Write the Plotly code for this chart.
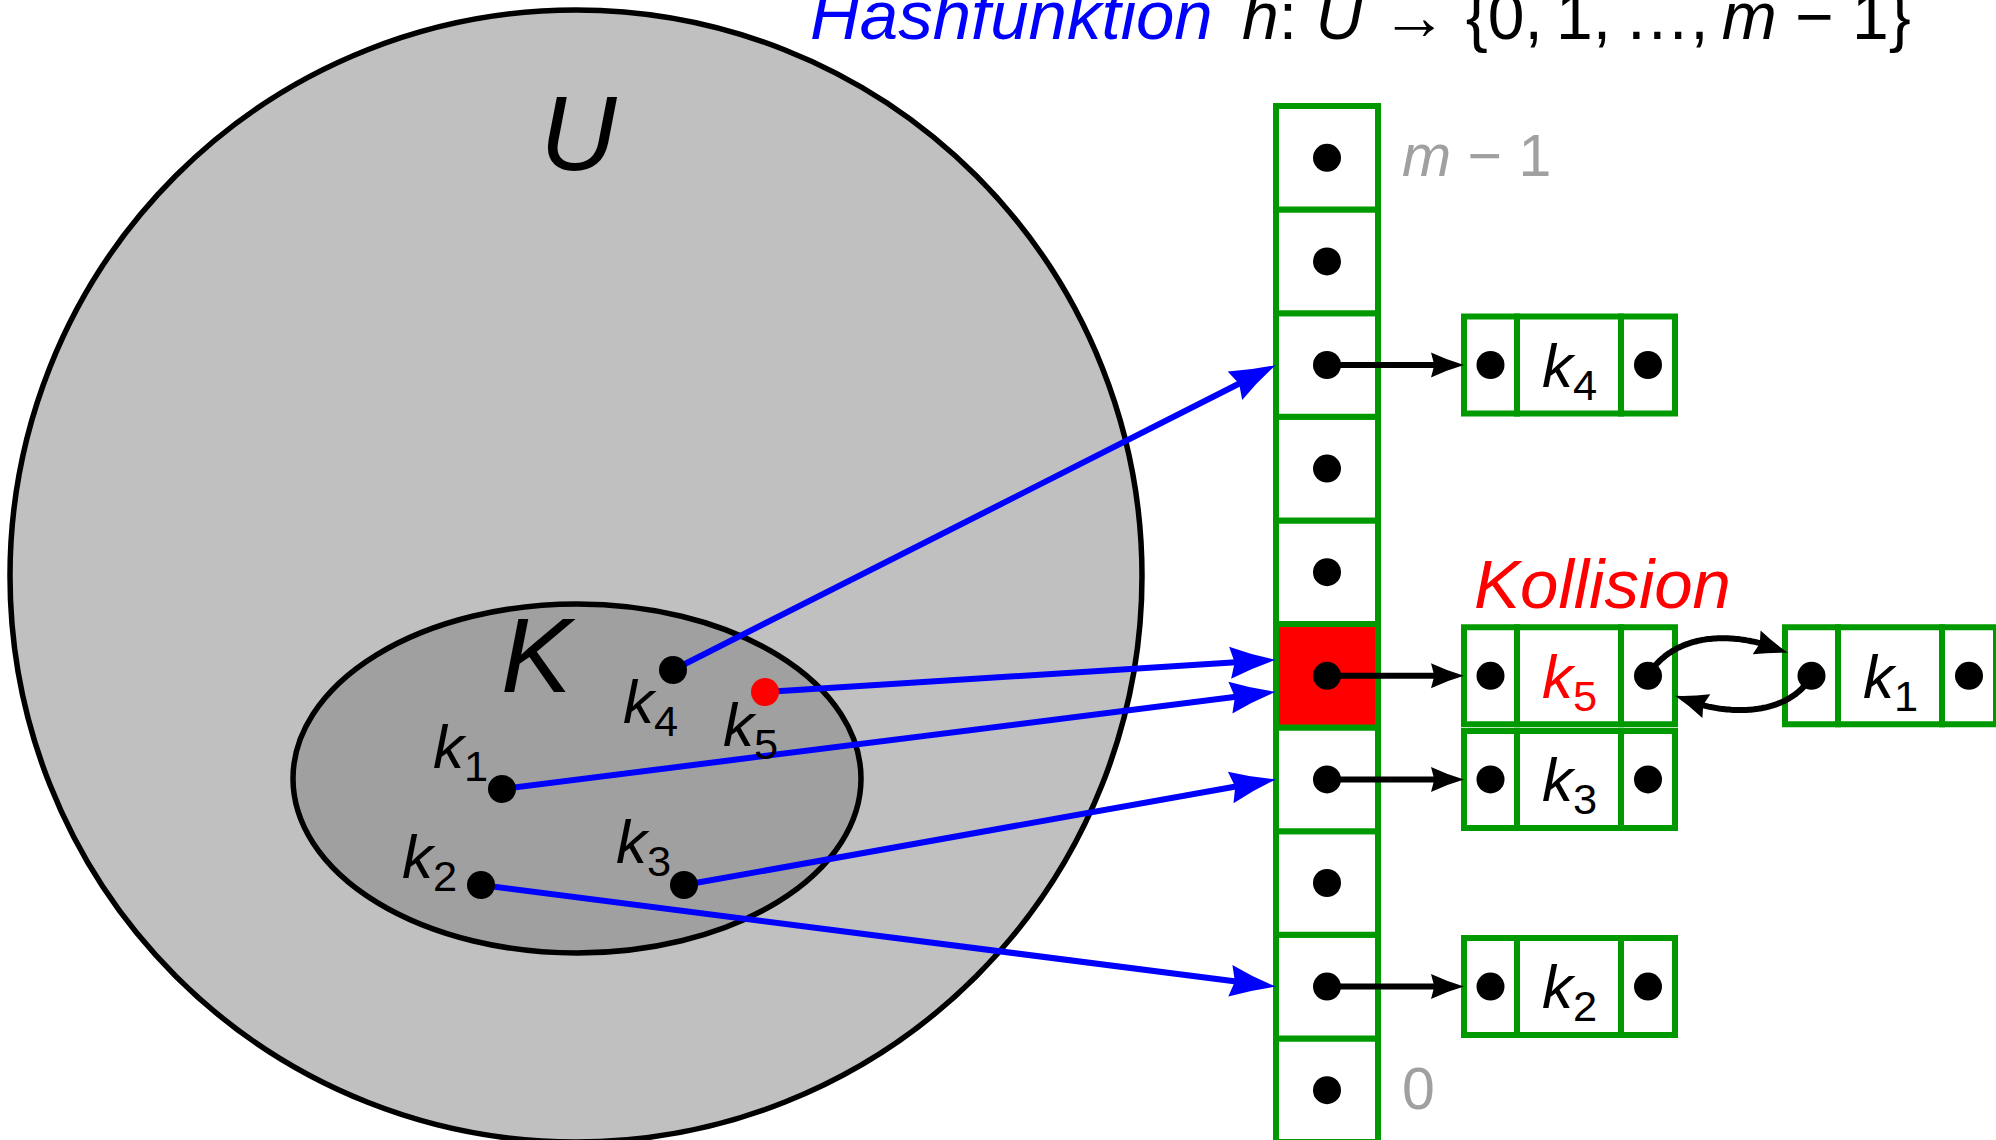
import math
import plotly.graph_objects as go

W, H = 1996, 1140

# ---------------- data ----------------
key_names = ["k1", "k2", "k3", "k4", "k5"]
key_sub = ["1", "2", "3", "4", "5"]
key_x = [502, 481, 684, 673, 765]
key_y = [789, 885, 885, 670, 692]
key_color = ["black", "black", "black", "black", "red"]
key_slot = [4, 1, 3, 7, 4]
label_dx = [-42, -52, -41, -23, -15]
label_dy = [-24, -10, -25, 50, 51]          # baseline offsets
m_slots = 10
chains = {7: [3], 4: [4, 0], 3: [2], 1: [1]}   # slot -> key indices (chain order)
collision_slot = 4
slot_labels = {9: "<i>m</i> − 1", 0: "0"}
title_left = "<i>Hashfunktion</i>"
title_right = "<i>h</i>: <i>U</i> → {0,\u20091,\u2009…,\u2009<i>m</i> − 1}"

# ---------------- geometry ----------------
FONT = "Liberation Sans"
GREEN = "#009900"
BLUE = "#0000ff"
TX0, TX1 = 1276, 1378
TCX = (TX0 + TX1) / 2
TTOP, CH = 106, 103.6
NODE_X0 = [1464, 1785]
NODE_W = [53, 104, 54]
NODE_H = 97
DOT = 28
GW = 6

shapes = []
annotations = []


def slot_cy(s):
    row = m_slots - 1 - s
    return TTOP + CH * (row + 0.5)


def text(x, baseline, html, size, color="black", xanchor="center", sub=False):
    yc = baseline - 0.347 * size + (0.118 * size if sub else 0)
    annotations.append(dict(x=x, y=yc, xref="x", yref="y", text=html, showarrow=False,
                            xanchor=xanchor, yanchor="middle",
                            font=dict(family=FONT, size=size, color=color)))


def head(tip, frm, L, w, color):
    tx, ty = tip
    dx, dy = tx - frm[0], ty - frm[1]
    n = math.hypot(dx, dy)
    ux, uy = dx / n, dy / n
    px, py = -uy, ux
    bx, by = tx - ux * L, ty - uy * L
    b1 = (bx + px * w, by + py * w)
    b2 = (bx - px * w, by - py * w)
    c1 = (tx - ux * L * 0.5 + px * w * 0.38, ty - uy * L * 0.5 + py * w * 0.38)
    c2 = (tx - ux * L * 0.5 - px * w * 0.38, ty - uy * L * 0.5 - py * w * 0.38)
    notch = (tx - ux * L * 0.9, ty - uy * L * 0.9)
    path = (f"M {tx:.1f},{ty:.1f} Q {c1[0]:.1f},{c1[1]:.1f} {b1[0]:.1f},{b1[1]:.1f} "
            f"L {notch[0]:.1f},{notch[1]:.1f} L {b2[0]:.1f},{b2[1]:.1f} "
            f"Q {c2[0]:.1f},{c2[1]:.1f} {tx:.1f},{ty:.1f} Z")
    shapes.append(dict(type="path", path=path, fillcolor=color, line=dict(width=0),
                       layer="below"))


def straight_arrow(p0, tip, color, width, L, w):
    dx, dy = tip[0] - p0[0], tip[1] - p0[1]
    n = math.hypot(dx, dy)
    ex, ey = tip[0] - dx / n * L * 0.7, tip[1] - dy / n * L * 0.7
    shapes.append(dict(type="line", x0=p0[0], y0=p0[1], x1=ex, y1=ey,
                       line=dict(color=color, width=width), layer="below"))
    head(tip, p0, L, w, color)


def curve_arrow(P, color, width, L, w):
    pts = []
    N = 80
    for i in range(N + 1):
        t = i / N
        a, b, c, d = (1 - t) ** 3, 3 * (1 - t) ** 2 * t, 3 * (1 - t) * t ** 2, t ** 3
        pts.append((a * P[0][0] + b * P[1][0] + c * P[2][0] + d * P[3][0],
                    a * P[0][1] + b * P[1][1] + c * P[2][1] + d * P[3][1]))
    tip = pts[-1]
    line_pts = [p for p in pts if math.hypot(p[0] - tip[0], p[1] - tip[1]) > L * 0.7]
    frm = [p for p in pts if math.hypot(p[0] - tip[0], p[1] - tip[1]) > L][-1]
    path = "M " + " L ".join(f"{x:.1f},{y:.1f}" for x, y in line_pts)
    shapes.append(dict(type="path", path=path, line=dict(color=color, width=width),
                       layer="below"))
    head(tip, frm, L, w, color)


# universe and key set
shapes.append(dict(type="circle", x0=10, x1=1142, y0=10, y1=1142, fillcolor="#c0c0c0",
                   line=dict(color="black", width=5.5), layer="below"))
shapes.append(dict(type="circle", x0=293, x1=861, y0=604, y1=953, fillcolor="#a0a0a0",
                   line=dict(color="black", width=5.5), layer="below"))

# table cells
for s in range(m_slots):
    cy = slot_cy(s)
    shapes.append(dict(type="rect", x0=TX0, x1=TX1, y0=cy - CH / 2, y1=cy + CH / 2,
                       fillcolor="red" if s == collision_slot else "white",
                       line=dict(color=GREEN, width=GW), layer="below"))

# chain nodes
dots_x, dots_y = [], []
for s, chain in chains.items():
    cy = slot_cy(s)
    for j, ki in enumerate(chain):
        x0 = NODE_X0[j]
        xs = [x0, x0 + NODE_W[0], x0 + NODE_W[0] + NODE_W[1], x0 + sum(NODE_W)]
        for a, b in zip(xs[:-1], xs[1:]):
            shapes.append(dict(type="rect", x0=a, x1=b, y0=cy - NODE_H / 2, y1=cy + NODE_H / 2,
                               fillcolor="white", line=dict(color=GREEN, width=GW),
                               layer="below"))
        dots_x += [(xs[0] + xs[1]) / 2, (xs[2] + xs[3]) / 2]
        dots_y += [cy, cy]
        text((xs[1] + xs[2]) / 2, cy + 19,
             f"<i>k</i><sub>{key_sub[ki]}</sub>", 62, key_color[ki], sub=True)
    # arrow from table to first node
    straight_arrow((TCX, cy), (NODE_X0[0], cy), "black", 6, 33, 12.5)
    # doubly linked arrows between nodes
    for j in range(len(chain) - 1):
        xa = NODE_X0[j]
        xb = NODE_X0[j + 1]
        rdot = xa + NODE_W[0] + NODE_W[1] + NODE_W[2] / 2
        ldot = xb + NODE_W[0] / 2
        curve_arrow([(rdot, cy), (rdot + 22, cy - 38), (rdot + 77, cy - 50), (xb + 3, cy - 23)],
                    "black", 6, 33, 12.5)
        curve_arrow([(ldot, cy), (ldot - 21, cy + 38), (ldot - 81, cy + 44),
                     (xa + sum(NODE_W), cy + 20)], "black", 6, 33, 12.5)

# blue hash arrows
for i in range(len(key_names)):
    s = key_slot[i]
    chain = chains[s]
    pos = chain.index(i)
    off = (pos - (len(chain) - 1) / 2) * 32
    tip = (TX0, slot_cy(s) + off)
    straight_arrow((key_x[i], key_y[i]), tip, BLUE, 6, 46, 16)

# table pointer dots
tdx = [TCX] * m_slots
tdy = [slot_cy(s) for s in range(m_slots)]

# labels
text(579, 170, "<i>U</i>", 106)
text(538, 692, "<i>K</i>", 106)
for i in range(len(key_names)):
    text(key_x[i] + label_dx[i], key_y[i] + label_dy[i],
         f"<i>k</i><sub>{key_sub[i]}</sub>", 62, "black", sub=True)
for s, lab in slot_labels.items():
    text(1400, slot_cy(s) + 19, lab, 59, "#a0a0a0", xanchor="left")
text(1602, 608, "<i>Kollision</i>", 69, "red")
text(808, 39, title_left, 69, BLUE, xanchor="left")
text(1240, 39, title_right, 66, "black", xanchor="left")

fig = go.Figure()
fig.add_trace(go.Scatter(x=tdx + dots_x, y=tdy + dots_y, mode="markers",
                         marker=dict(size=DOT, color="black", line=dict(width=0)),
                         hoverinfo="skip"))
fig.add_trace(go.Scatter(x=key_x, y=key_y, mode="markers",
                         marker=dict(size=DOT, color=key_color, line=dict(width=0)),
                         hoverinfo="skip"))
fig.update_layout(
    width=W, height=H, margin=dict(l=0, r=0, t=0, b=0),
    paper_bgcolor="white", plot_bgcolor="white", showlegend=False,
    xaxis=dict(range=[0, W], visible=False, fixedrange=True),
    yaxis=dict(range=[H, 0], visible=False, fixedrange=True),
    shapes=shapes, annotations=annotations,
)
fig.write_html("out.html", config={"displayModeBar": False},
               post_script="document.body.style.margin='0';document.body.style.overflow='hidden';")
